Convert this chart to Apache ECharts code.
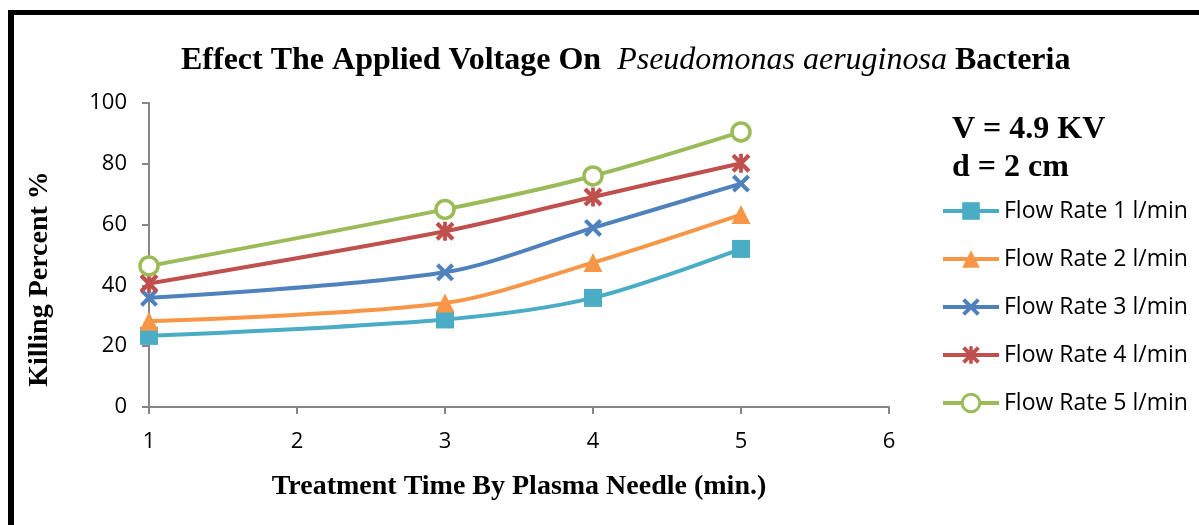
<!DOCTYPE html>
<html>
<head>
<meta charset="utf-8">
<script src="https://cdn.jsdelivr.net/npm/echarts@6/dist/echarts.min.js"></script>
<style>
  html, body { margin: 0; padding: 0; background: #fff; }
  #chart { width: 1199px; height: 525px; }
</style>
</head>
<body>
<div id="chart"></div>
<script>
const times = [1, 3, 4, 5];
const seriesNames = [
  "Flow Rate 1 l/min",
  "Flow Rate 2 l/min",
  "Flow Rate 3 l/min",
  "Flow Rate 4 l/min",
  "Flow Rate 5 l/min",
];
const flow1 = [23.4, 28.8, 35.9, 52];
const flow2 = [28.2, 34.2, 47.5, 63.3];
const flow3 = [35.9, 44.3, 58.9, 73.5];
const flow4 = [40.6, 57.8, 69.1, 80.2];
const flow5 = [46.4, 65, 76, 90.5];

const colors = ["#4BACC6", "#F79646", "#4F81BD", "#C0504D", "#9BBB59"];

// filled X shape and X with a vertical bar (Excel "star" marker)
const xPath = "path://M0,1.6L1.6,0L5,3.4L8.4,0L10,1.6L6.6,5L10,8.4L8.4,10L5,6.6L1.6,10L0,8.4L3.4,5Z";
const starPath = xPath + "M4,0L6,0L6,10L4,10Z";

const serif = "'Liberation Serif', 'Times New Roman', serif";
const sans = "'Open Sans', 'Noto Sans', sans-serif";

function pairs(vals) {
  return times.map((t, i) => [t, vals[i]]);
}

const chart = echarts.init(document.getElementById("chart"));

const allData = [flow1, flow2, flow3, flow4, flow5];
const symbols = ["rect", "triangle", xPath, starPath, "circle"];
const sizes = [18, 19, 18, 19, 18];

chart.setOption({
  animation: false,
  title: {
    text: "{b|Effect The Applied Voltage On  }{i|Pseudomonas aeruginosa}{b| Bacteria}",
    left: 176,
    top: 40,
    textStyle: {
      rich: {
        b: { fontFamily: serif, fontWeight: "bold", fontSize: 32, color: "#000" },
        i: { fontFamily: serif, fontWeight: "normal", fontStyle: "italic", fontSize: 32, color: "#000" },
      },
    },
  },
  legend: {
    orient: "vertical",
    left: 936,
    top: 194,
    itemWidth: 56,
    itemHeight: 22,
    itemGap: 24,
    itemStyle: { borderWidth: 3 },
    lineStyle: { width: 4 },
    textStyle: { fontFamily: sans, fontSize: 23, lineHeight: 24, color: "#000" },
    data: seriesNames,
  },
  grid: { left: 149, right: 310, top: 103, bottom: 118 },
  xAxis: {
    type: "value",
    min: 1,
    max: 6,
    interval: 1,
    name: "Treatment Time By Plasma Needle (min.)",
    nameLocation: "middle",
    nameGap: 66,
    nameTextStyle: { fontFamily: serif, fontWeight: "bold", fontSize: 28, color: "#000" },
    axisLine: { lineStyle: { color: "#868686", width: 2 } },
    axisTick: { show: true, length: 7, lineStyle: { color: "#868686", width: 2 } },
    axisLabel: { fontFamily: sans, fontSize: 22, color: "#000", margin: 24 },
    splitLine: { show: false },
  },
  yAxis: {
    type: "value",
    min: 0,
    max: 100,
    interval: 20,
    axisLine: { show: true, lineStyle: { color: "#868686", width: 2 } },
    axisTick: { show: true, length: 7, lineStyle: { color: "#868686", width: 2 } },
    axisLabel: { fontFamily: sans, fontSize: 22, color: "#000", margin: 22 },
    splitLine: { show: false },
  },
  graphic: [
    { type: "rect", shape: { x: 8, y: 10, width: 1191, height: 5 }, style: { fill: "#000" } },
    { type: "rect", shape: { x: 8, y: 10, width: 6, height: 515 }, style: { fill: "#000" } },
    {
      // y axis title, sits a bit below the plot middle like the original
      type: "text", x: 40, y: 279, rotation: Math.PI / 2,
      style: {
        text: "Killing Percent %", font: "bold 28px " + serif, fill: "#000",
        align: "center", verticalAlign: "middle",
      },
    },
    {
      type: "text", left: 952, top: 114,
      style: { text: "V = 4.9 KV", font: "bold 32px " + serif, fill: "#000" },
    },
    {
      type: "text", left: 952, top: 152,
      style: { text: "d = 2 cm", font: "bold 32px " + serif, fill: "#000" },
    },
  ],
  series: allData.map((vals, i) => ({
    name: seriesNames[i],
    type: "line",
    data: pairs(vals),
    smooth: 0.3,
    symbol: symbols[i],
    symbolSize: sizes[i],
    color: colors[i],
    lineStyle: { width: 4, color: colors[i] },
    itemStyle: i === 4
      ? { color: "#fff", borderColor: colors[i], borderWidth: 3.5 }
      : { color: colors[i], borderWidth: 0 },
    z: 2 + i,
  })),
});
</script>
</body>
</html>
